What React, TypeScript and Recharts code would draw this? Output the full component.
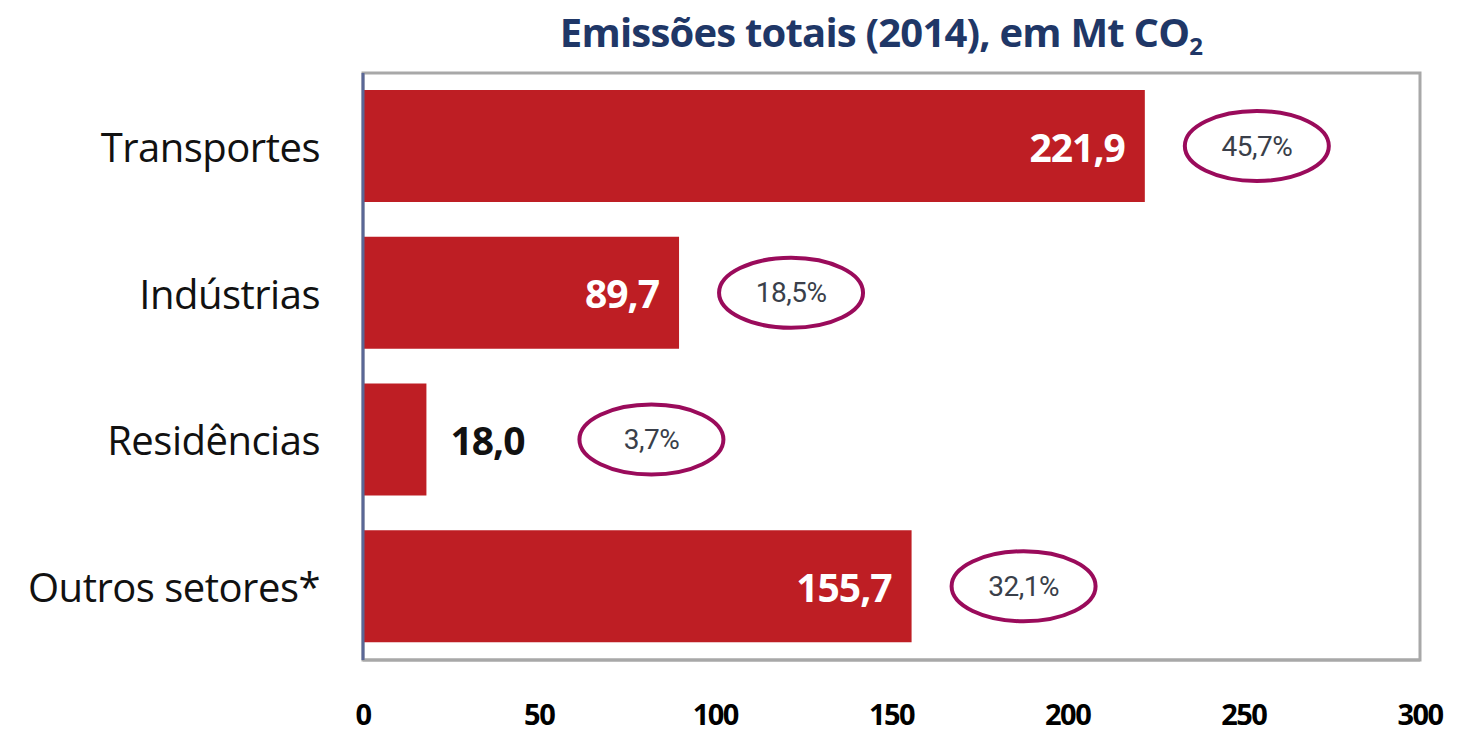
import React from "react";
import { BarChart, Bar, XAxis, YAxis, LabelList, ReferenceArea } from "recharts";

// Emissões totais (2014), em Mt CO2
const categories = ["Transportes", "Indústrias", "Residências", "Outros setores*"];
const emissions = [221.9, 89.7, 18.0, 155.7];
const shares = [45.7, 18.5, 3.7, 32.1];
const xTicks = [0, 50, 100, 150, 200, 250, 300];

const data = categories.map((name, i) => ({
    name,
    value: emissions[i],
    share: shares[i],
}));

const fmt = (v: number) => v.toFixed(1).replace(".", ",");

// labels that don't fit in the bar go outside, in black
const isInside = (v: number) => v >= 30;

const CategoryTick = ({ x, y, payload }: any) => (
    <text
        x={x - 35}
        y={y}
        textAnchor="end"
        dominantBaseline="central"
        fontFamily="Open Sans"
        fontSize={40}
        letterSpacing={-0.5}
        fill="#111"
    >
        {payload.value}
    </text>
);

const ValueTick = ({ x, y, payload }: any) => (
    <text
        x={x}
        y={y + 45}
        textAnchor="middle"
        dominantBaseline="central"
        fontFamily="Open Sans"
        fontWeight={700}
        fontSize={29}
        letterSpacing={-1.5}
        fill="#000"
    >
        {payload.value}
    </text>
);

const ValueLabel = (props: any) => {
    const { x, y, width, height, value } = props;
    const inside = isInside(value);
    return (
        <text
            x={inside ? x + width - 20 : x + width + 24}
            y={y + height / 2}
            textAnchor={inside ? "end" : "start"}
            dominantBaseline="central"
            fontFamily="Open Sans"
            fontWeight={700}
            fontSize={39}
            letterSpacing={-1}
            fill={inside ? "#fff" : "#111"}
        >
            {fmt(value)}
        </text>
    );
};

const ShareLabel = (props: any) => {
    const { x, y, width, height, value, index } = props;
    const cx = x + width + (isInside(emissions[index]) ? 112 : 225);
    const cy = y + height / 2;
    return (
        <g>
            <ellipse cx={cx} cy={cy} rx={72} ry={35} fill="none" stroke="#9a0b5b" strokeWidth={4} />
            <text
                x={cx}
                y={cy}
                textAnchor="middle"
                dominantBaseline="central"
                fontFamily="Roboto"
                fontSize={28}
                letterSpacing={-0.5}
                fill="#3a3f4a"
            >
                {fmt(value)}%
            </text>
        </g>
    );
};

export default function App() {
    return (
        <div style={{ position: "absolute", left: 0, top: 0, width: 1457, height: 732, background: "#fff" }}>
            <div
                style={{
                    position: "absolute",
                    left: 381,
                    top: 5,
                    width: 1000,
                    textAlign: "center",
                    fontFamily: "Open Sans",
                    fontWeight: 700,
                    fontSize: 40,
                    letterSpacing: -0.8,
                    color: "#1f3767",
                    lineHeight: "54px",
                }}
            >
                Emissões totais (2014), em Mt CO
                <span style={{ fontSize: 24, verticalAlign: -8 }}>2</span>
            </div>
            <BarChart
                width={1457}
                height={732}
                data={data}
                layout="vertical"
                margin={{ top: 73, right: 37, bottom: 0, left: 0 }}
            >
                <ReferenceArea
                    x1={0}
                    x2={300}
                    fill="none"
                    stroke="#a8a8a8"
                    strokeWidth={3}
                    ifOverflow="visible"
                />
                <XAxis
                    type="number"
                    domain={[0, 300]}
                    ticks={xTicks}
                    height={72}
                    axisLine={{ stroke: "#a8a8a8", strokeWidth: 3 }}
                    tickLine={false}
                    tick={<ValueTick />}
                    interval={0}
                />
                <YAxis
                    type="category"
                    dataKey="name"
                    width={363}
                    axisLine={{ stroke: "#5a6796", strokeWidth: 3 }}
                    tickLine={false}
                    tick={<CategoryTick />}
                />
                <Bar dataKey="value" fill="#be1e24" barSize={112} isAnimationActive={false}>
                    <LabelList dataKey="value" content={<ValueLabel />} />
                    <LabelList dataKey="share" content={<ShareLabel />} />
                </Bar>
            </BarChart>
        </div>
    );
}
